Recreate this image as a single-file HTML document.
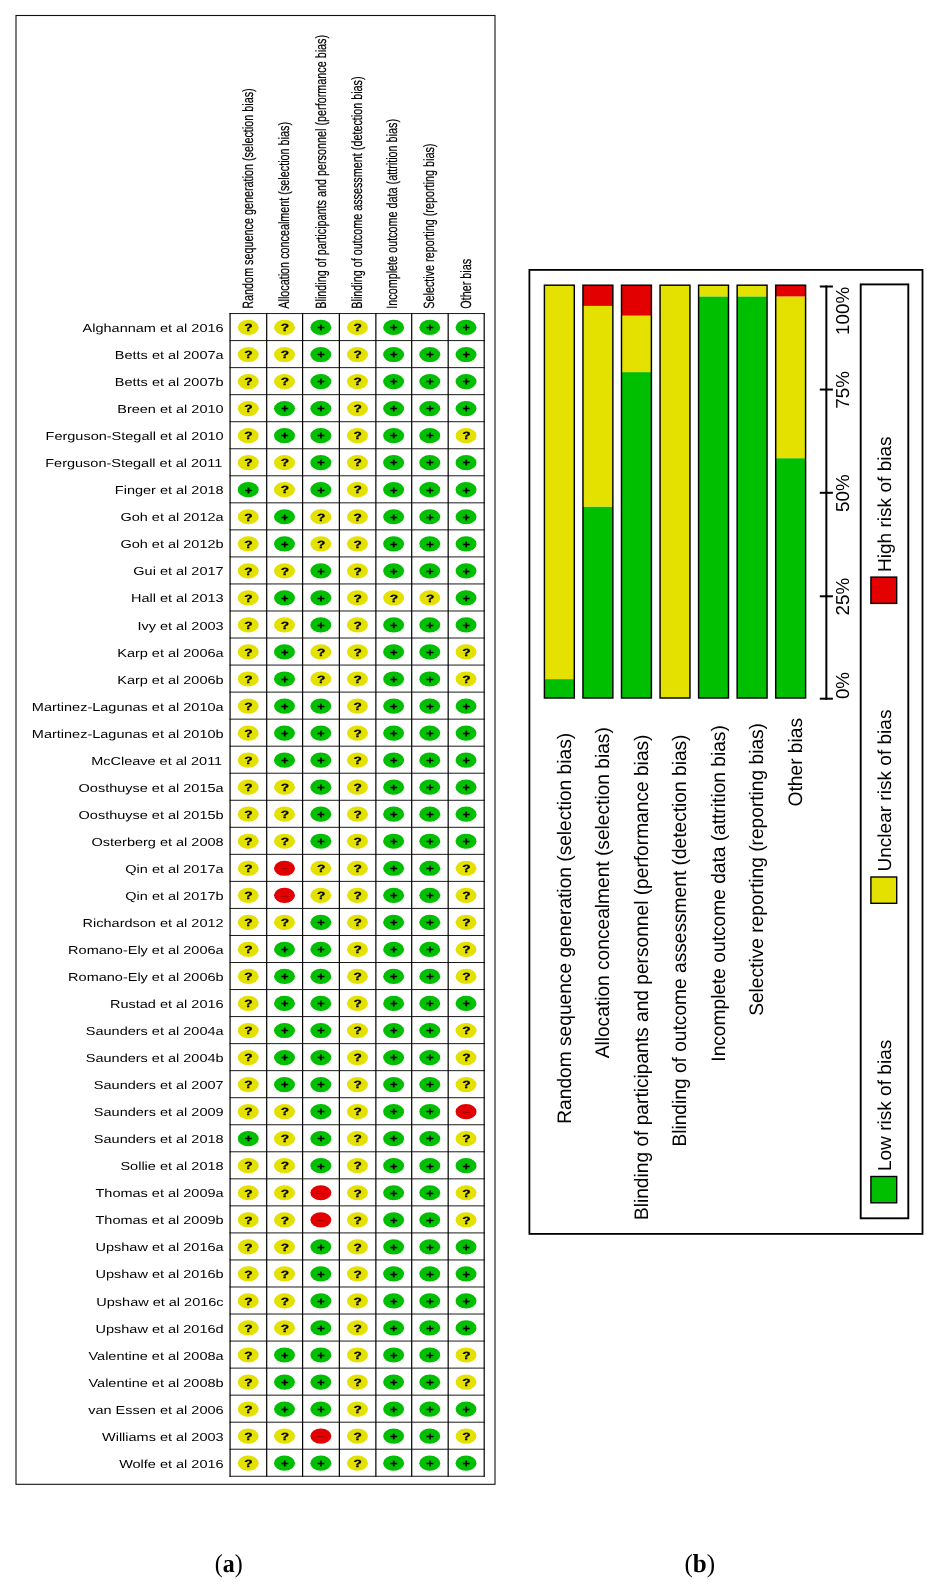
<!DOCTYPE html>
<html lang="en"><head><meta charset="utf-8"><title>Risk of bias summary and graph</title><style>
html,body{margin:0;padding:0;background:#fff}
svg{display:block;will-change:transform}
text{font-family:"Liberation Sans",sans-serif;fill:#000;text-rendering:geometricPrecision}
.st{font-size:11.6px}
.hd{font-size:12px;stroke:#000;stroke-width:0.15px}
.sy{font-size:10.5px;font-weight:bold;stroke:#000;stroke-width:0.3px}
.sm{font-size:10px;fill:#8a0000}
.bl{font-size:19.17px}
.ax{font-size:18.8px}
.cap{font-family:"Liberation Serif","DejaVu Serif",serif;font-size:25.8px}
</style></head><body>
<svg width="937" height="1589" viewBox="0 0 937 1589">
<rect x="0" y="0" width="937" height="1589" fill="#fff"/>
<rect x="16" y="15.5" width="479" height="1468.8" fill="none" stroke="#111" stroke-width="1.1"/>
<line x1="230.07" y1="313.05" x2="230.07" y2="1476.77" stroke="#000" stroke-width="1.2"/>
<line x1="266.70" y1="313.05" x2="266.70" y2="1476.77" stroke="#000" stroke-width="1.2"/>
<line x1="302.60" y1="313.05" x2="302.60" y2="1476.77" stroke="#000" stroke-width="1.2"/>
<line x1="339.35" y1="313.05" x2="339.35" y2="1476.77" stroke="#000" stroke-width="1.2"/>
<line x1="375.87" y1="313.05" x2="375.87" y2="1476.77" stroke="#000" stroke-width="1.2"/>
<line x1="411.70" y1="313.05" x2="411.70" y2="1476.77" stroke="#000" stroke-width="1.2"/>
<line x1="448.18" y1="313.05" x2="448.18" y2="1476.77" stroke="#000" stroke-width="1.2"/>
<line x1="484.20" y1="313.05" x2="484.20" y2="1476.77" stroke="#000" stroke-width="1.2"/>
<line x1="229.47" y1="313.55" x2="484.80" y2="313.55" stroke="#000" stroke-width="0.9"/>
<line x1="229.47" y1="340.59" x2="484.80" y2="340.59" stroke="#000" stroke-width="0.9"/>
<line x1="229.47" y1="367.63" x2="484.80" y2="367.63" stroke="#000" stroke-width="0.9"/>
<line x1="229.47" y1="394.67" x2="484.80" y2="394.67" stroke="#000" stroke-width="0.9"/>
<line x1="229.47" y1="421.71" x2="484.80" y2="421.71" stroke="#000" stroke-width="0.9"/>
<line x1="229.47" y1="448.75" x2="484.80" y2="448.75" stroke="#000" stroke-width="0.9"/>
<line x1="229.47" y1="475.79" x2="484.80" y2="475.79" stroke="#000" stroke-width="0.9"/>
<line x1="229.47" y1="502.83" x2="484.80" y2="502.83" stroke="#000" stroke-width="0.9"/>
<line x1="229.47" y1="529.87" x2="484.80" y2="529.87" stroke="#000" stroke-width="0.9"/>
<line x1="229.47" y1="556.91" x2="484.80" y2="556.91" stroke="#000" stroke-width="0.9"/>
<line x1="229.47" y1="583.95" x2="484.80" y2="583.95" stroke="#000" stroke-width="0.9"/>
<line x1="229.47" y1="610.99" x2="484.80" y2="610.99" stroke="#000" stroke-width="0.9"/>
<line x1="229.47" y1="638.03" x2="484.80" y2="638.03" stroke="#000" stroke-width="0.9"/>
<line x1="229.47" y1="665.07" x2="484.80" y2="665.07" stroke="#000" stroke-width="0.9"/>
<line x1="229.47" y1="692.11" x2="484.80" y2="692.11" stroke="#000" stroke-width="0.9"/>
<line x1="229.47" y1="719.15" x2="484.80" y2="719.15" stroke="#000" stroke-width="0.9"/>
<line x1="229.47" y1="746.19" x2="484.80" y2="746.19" stroke="#000" stroke-width="0.9"/>
<line x1="229.47" y1="773.23" x2="484.80" y2="773.23" stroke="#000" stroke-width="0.9"/>
<line x1="229.47" y1="800.27" x2="484.80" y2="800.27" stroke="#000" stroke-width="0.9"/>
<line x1="229.47" y1="827.31" x2="484.80" y2="827.31" stroke="#000" stroke-width="0.9"/>
<line x1="229.47" y1="854.35" x2="484.80" y2="854.35" stroke="#000" stroke-width="0.9"/>
<line x1="229.47" y1="881.39" x2="484.80" y2="881.39" stroke="#000" stroke-width="0.9"/>
<line x1="229.47" y1="908.43" x2="484.80" y2="908.43" stroke="#000" stroke-width="0.9"/>
<line x1="229.47" y1="935.47" x2="484.80" y2="935.47" stroke="#000" stroke-width="0.9"/>
<line x1="229.47" y1="962.51" x2="484.80" y2="962.51" stroke="#000" stroke-width="0.9"/>
<line x1="229.47" y1="989.55" x2="484.80" y2="989.55" stroke="#000" stroke-width="0.9"/>
<line x1="229.47" y1="1016.59" x2="484.80" y2="1016.59" stroke="#000" stroke-width="0.9"/>
<line x1="229.47" y1="1043.63" x2="484.80" y2="1043.63" stroke="#000" stroke-width="0.9"/>
<line x1="229.47" y1="1070.67" x2="484.80" y2="1070.67" stroke="#000" stroke-width="0.9"/>
<line x1="229.47" y1="1097.71" x2="484.80" y2="1097.71" stroke="#000" stroke-width="0.9"/>
<line x1="229.47" y1="1124.75" x2="484.80" y2="1124.75" stroke="#000" stroke-width="0.9"/>
<line x1="229.47" y1="1151.79" x2="484.80" y2="1151.79" stroke="#000" stroke-width="0.9"/>
<line x1="229.47" y1="1178.83" x2="484.80" y2="1178.83" stroke="#000" stroke-width="0.9"/>
<line x1="229.47" y1="1205.87" x2="484.80" y2="1205.87" stroke="#000" stroke-width="0.9"/>
<line x1="229.47" y1="1232.91" x2="484.80" y2="1232.91" stroke="#000" stroke-width="0.9"/>
<line x1="229.47" y1="1259.95" x2="484.80" y2="1259.95" stroke="#000" stroke-width="0.9"/>
<line x1="229.47" y1="1286.99" x2="484.80" y2="1286.99" stroke="#000" stroke-width="0.9"/>
<line x1="229.47" y1="1314.03" x2="484.80" y2="1314.03" stroke="#000" stroke-width="0.9"/>
<line x1="229.47" y1="1341.07" x2="484.80" y2="1341.07" stroke="#000" stroke-width="0.9"/>
<line x1="229.47" y1="1368.11" x2="484.80" y2="1368.11" stroke="#000" stroke-width="0.9"/>
<line x1="229.47" y1="1395.15" x2="484.80" y2="1395.15" stroke="#000" stroke-width="0.9"/>
<line x1="229.47" y1="1422.19" x2="484.80" y2="1422.19" stroke="#000" stroke-width="0.9"/>
<line x1="229.47" y1="1449.23" x2="484.80" y2="1449.23" stroke="#000" stroke-width="0.9"/>
<line x1="229.47" y1="1476.27" x2="484.80" y2="1476.27" stroke="#000" stroke-width="0.9"/>
<text class="hd" transform="translate(253.00,308.7) scale(1.24,0.9) rotate(-90)">Random sequence generation (selection bias)</text>
<text class="hd" transform="translate(289.33,308.7) scale(1.24,0.9) rotate(-90)">Allocation concealment (selection bias)</text>
<text class="hd" transform="translate(325.66,308.7) scale(1.24,0.9) rotate(-90)">Blinding of participants and personnel (performance bias)</text>
<text class="hd" transform="translate(361.69,308.7) scale(1.24,0.9) rotate(-90)">Blinding of outcome assessment (detection bias)</text>
<text class="hd" transform="translate(397.41,308.7) scale(1.24,0.9) rotate(-90)">Incomplete outcome data (attrition bias)</text>
<text class="hd" transform="translate(434.24,308.7) scale(1.24,0.9) rotate(-90)">Selective reporting (reporting bias)</text>
<text class="hd" transform="translate(470.77,308.7) scale(1.24,0.9) rotate(-90)">Other bias</text>
<text class="st" transform="translate(223.6,332.07) scale(1.25,1)" text-anchor="end">Alghannam et al 2016</text>
<ellipse cx="248.23" cy="327.47" rx="10.5" ry="7.6" fill="#e4e000"/>
<text class="sy" transform="translate(248.53,331.22) scale(1.3,1)" text-anchor="middle">?</text>
<ellipse cx="284.50" cy="327.47" rx="10.5" ry="7.6" fill="#e4e000"/>
<text class="sy" transform="translate(284.80,331.22) scale(1.3,1)" text-anchor="middle">?</text>
<ellipse cx="320.83" cy="327.47" rx="10.5" ry="7.6" fill="#00be00"/>
<text class="sy" transform="translate(321.03,331.27) scale(1.22,1.0)" text-anchor="middle">+</text>
<ellipse cx="357.46" cy="327.47" rx="10.5" ry="7.6" fill="#e4e000"/>
<text class="sy" transform="translate(357.76,331.22) scale(1.3,1)" text-anchor="middle">?</text>
<ellipse cx="393.63" cy="327.47" rx="10.5" ry="7.6" fill="#00be00"/>
<text class="sy" transform="translate(393.83,331.27) scale(1.22,1.0)" text-anchor="middle">+</text>
<ellipse cx="429.79" cy="327.47" rx="10.5" ry="7.6" fill="#00be00"/>
<text class="sy" transform="translate(429.99,331.27) scale(1.22,1.0)" text-anchor="middle">+</text>
<ellipse cx="466.04" cy="327.47" rx="10.5" ry="7.6" fill="#00be00"/>
<text class="sy" transform="translate(466.24,331.27) scale(1.22,1.0)" text-anchor="middle">+</text>
<text class="st" transform="translate(223.6,359.11) scale(1.25,1)" text-anchor="end">Betts et al 2007a</text>
<ellipse cx="248.23" cy="354.51" rx="10.5" ry="7.6" fill="#e4e000"/>
<text class="sy" transform="translate(248.53,358.26) scale(1.3,1)" text-anchor="middle">?</text>
<ellipse cx="284.50" cy="354.51" rx="10.5" ry="7.6" fill="#e4e000"/>
<text class="sy" transform="translate(284.80,358.26) scale(1.3,1)" text-anchor="middle">?</text>
<ellipse cx="320.83" cy="354.51" rx="10.5" ry="7.6" fill="#00be00"/>
<text class="sy" transform="translate(321.03,358.31) scale(1.22,1.0)" text-anchor="middle">+</text>
<ellipse cx="357.46" cy="354.51" rx="10.5" ry="7.6" fill="#e4e000"/>
<text class="sy" transform="translate(357.76,358.26) scale(1.3,1)" text-anchor="middle">?</text>
<ellipse cx="393.63" cy="354.51" rx="10.5" ry="7.6" fill="#00be00"/>
<text class="sy" transform="translate(393.83,358.31) scale(1.22,1.0)" text-anchor="middle">+</text>
<ellipse cx="429.79" cy="354.51" rx="10.5" ry="7.6" fill="#00be00"/>
<text class="sy" transform="translate(429.99,358.31) scale(1.22,1.0)" text-anchor="middle">+</text>
<ellipse cx="466.04" cy="354.51" rx="10.5" ry="7.6" fill="#00be00"/>
<text class="sy" transform="translate(466.24,358.31) scale(1.22,1.0)" text-anchor="middle">+</text>
<text class="st" transform="translate(223.6,386.15) scale(1.25,1)" text-anchor="end">Betts et al 2007b</text>
<ellipse cx="248.23" cy="381.55" rx="10.5" ry="7.6" fill="#e4e000"/>
<text class="sy" transform="translate(248.53,385.30) scale(1.3,1)" text-anchor="middle">?</text>
<ellipse cx="284.50" cy="381.55" rx="10.5" ry="7.6" fill="#e4e000"/>
<text class="sy" transform="translate(284.80,385.30) scale(1.3,1)" text-anchor="middle">?</text>
<ellipse cx="320.83" cy="381.55" rx="10.5" ry="7.6" fill="#00be00"/>
<text class="sy" transform="translate(321.03,385.35) scale(1.22,1.0)" text-anchor="middle">+</text>
<ellipse cx="357.46" cy="381.55" rx="10.5" ry="7.6" fill="#e4e000"/>
<text class="sy" transform="translate(357.76,385.30) scale(1.3,1)" text-anchor="middle">?</text>
<ellipse cx="393.63" cy="381.55" rx="10.5" ry="7.6" fill="#00be00"/>
<text class="sy" transform="translate(393.83,385.35) scale(1.22,1.0)" text-anchor="middle">+</text>
<ellipse cx="429.79" cy="381.55" rx="10.5" ry="7.6" fill="#00be00"/>
<text class="sy" transform="translate(429.99,385.35) scale(1.22,1.0)" text-anchor="middle">+</text>
<ellipse cx="466.04" cy="381.55" rx="10.5" ry="7.6" fill="#00be00"/>
<text class="sy" transform="translate(466.24,385.35) scale(1.22,1.0)" text-anchor="middle">+</text>
<text class="st" transform="translate(223.6,413.19) scale(1.25,1)" text-anchor="end">Breen et al 2010</text>
<ellipse cx="248.23" cy="408.59" rx="10.5" ry="7.6" fill="#e4e000"/>
<text class="sy" transform="translate(248.53,412.34) scale(1.3,1)" text-anchor="middle">?</text>
<ellipse cx="284.50" cy="408.59" rx="10.5" ry="7.6" fill="#00be00"/>
<text class="sy" transform="translate(284.70,412.39) scale(1.22,1.0)" text-anchor="middle">+</text>
<ellipse cx="320.83" cy="408.59" rx="10.5" ry="7.6" fill="#00be00"/>
<text class="sy" transform="translate(321.03,412.39) scale(1.22,1.0)" text-anchor="middle">+</text>
<ellipse cx="357.46" cy="408.59" rx="10.5" ry="7.6" fill="#e4e000"/>
<text class="sy" transform="translate(357.76,412.34) scale(1.3,1)" text-anchor="middle">?</text>
<ellipse cx="393.63" cy="408.59" rx="10.5" ry="7.6" fill="#00be00"/>
<text class="sy" transform="translate(393.83,412.39) scale(1.22,1.0)" text-anchor="middle">+</text>
<ellipse cx="429.79" cy="408.59" rx="10.5" ry="7.6" fill="#00be00"/>
<text class="sy" transform="translate(429.99,412.39) scale(1.22,1.0)" text-anchor="middle">+</text>
<ellipse cx="466.04" cy="408.59" rx="10.5" ry="7.6" fill="#00be00"/>
<text class="sy" transform="translate(466.24,412.39) scale(1.22,1.0)" text-anchor="middle">+</text>
<text class="st" transform="translate(223.6,440.23) scale(1.25,1)" text-anchor="end">Ferguson-Stegall et al 2010</text>
<ellipse cx="248.23" cy="435.63" rx="10.5" ry="7.6" fill="#e4e000"/>
<text class="sy" transform="translate(248.53,439.38) scale(1.3,1)" text-anchor="middle">?</text>
<ellipse cx="284.50" cy="435.63" rx="10.5" ry="7.6" fill="#00be00"/>
<text class="sy" transform="translate(284.70,439.43) scale(1.22,1.0)" text-anchor="middle">+</text>
<ellipse cx="320.83" cy="435.63" rx="10.5" ry="7.6" fill="#00be00"/>
<text class="sy" transform="translate(321.03,439.43) scale(1.22,1.0)" text-anchor="middle">+</text>
<ellipse cx="357.46" cy="435.63" rx="10.5" ry="7.6" fill="#e4e000"/>
<text class="sy" transform="translate(357.76,439.38) scale(1.3,1)" text-anchor="middle">?</text>
<ellipse cx="393.63" cy="435.63" rx="10.5" ry="7.6" fill="#00be00"/>
<text class="sy" transform="translate(393.83,439.43) scale(1.22,1.0)" text-anchor="middle">+</text>
<ellipse cx="429.79" cy="435.63" rx="10.5" ry="7.6" fill="#00be00"/>
<text class="sy" transform="translate(429.99,439.43) scale(1.22,1.0)" text-anchor="middle">+</text>
<ellipse cx="466.04" cy="435.63" rx="10.5" ry="7.6" fill="#e4e000"/>
<text class="sy" transform="translate(466.34,439.38) scale(1.3,1)" text-anchor="middle">?</text>
<text class="st" transform="translate(222.2,467.27) scale(1.25,1)" text-anchor="end">Ferguson-Stegall et al 2011</text>
<ellipse cx="248.23" cy="462.67" rx="10.5" ry="7.6" fill="#e4e000"/>
<text class="sy" transform="translate(248.53,466.42) scale(1.3,1)" text-anchor="middle">?</text>
<ellipse cx="284.50" cy="462.67" rx="10.5" ry="7.6" fill="#e4e000"/>
<text class="sy" transform="translate(284.80,466.42) scale(1.3,1)" text-anchor="middle">?</text>
<ellipse cx="320.83" cy="462.67" rx="10.5" ry="7.6" fill="#00be00"/>
<text class="sy" transform="translate(321.03,466.47) scale(1.22,1.0)" text-anchor="middle">+</text>
<ellipse cx="357.46" cy="462.67" rx="10.5" ry="7.6" fill="#e4e000"/>
<text class="sy" transform="translate(357.76,466.42) scale(1.3,1)" text-anchor="middle">?</text>
<ellipse cx="393.63" cy="462.67" rx="10.5" ry="7.6" fill="#00be00"/>
<text class="sy" transform="translate(393.83,466.47) scale(1.22,1.0)" text-anchor="middle">+</text>
<ellipse cx="429.79" cy="462.67" rx="10.5" ry="7.6" fill="#00be00"/>
<text class="sy" transform="translate(429.99,466.47) scale(1.22,1.0)" text-anchor="middle">+</text>
<ellipse cx="466.04" cy="462.67" rx="10.5" ry="7.6" fill="#00be00"/>
<text class="sy" transform="translate(466.24,466.47) scale(1.22,1.0)" text-anchor="middle">+</text>
<text class="st" transform="translate(223.6,494.31) scale(1.25,1)" text-anchor="end">Finger et al 2018</text>
<ellipse cx="248.23" cy="489.71" rx="10.5" ry="7.6" fill="#00be00"/>
<text class="sy" transform="translate(248.43,493.51) scale(1.22,1.0)" text-anchor="middle">+</text>
<ellipse cx="284.50" cy="489.71" rx="10.5" ry="7.6" fill="#e4e000"/>
<text class="sy" transform="translate(284.80,493.46) scale(1.3,1)" text-anchor="middle">?</text>
<ellipse cx="320.83" cy="489.71" rx="10.5" ry="7.6" fill="#00be00"/>
<text class="sy" transform="translate(321.03,493.51) scale(1.22,1.0)" text-anchor="middle">+</text>
<ellipse cx="357.46" cy="489.71" rx="10.5" ry="7.6" fill="#e4e000"/>
<text class="sy" transform="translate(357.76,493.46) scale(1.3,1)" text-anchor="middle">?</text>
<ellipse cx="393.63" cy="489.71" rx="10.5" ry="7.6" fill="#00be00"/>
<text class="sy" transform="translate(393.83,493.51) scale(1.22,1.0)" text-anchor="middle">+</text>
<ellipse cx="429.79" cy="489.71" rx="10.5" ry="7.6" fill="#00be00"/>
<text class="sy" transform="translate(429.99,493.51) scale(1.22,1.0)" text-anchor="middle">+</text>
<ellipse cx="466.04" cy="489.71" rx="10.5" ry="7.6" fill="#00be00"/>
<text class="sy" transform="translate(466.24,493.51) scale(1.22,1.0)" text-anchor="middle">+</text>
<text class="st" transform="translate(223.6,521.35) scale(1.25,1)" text-anchor="end">Goh et al 2012a</text>
<ellipse cx="248.23" cy="516.75" rx="10.5" ry="7.6" fill="#e4e000"/>
<text class="sy" transform="translate(248.53,520.50) scale(1.3,1)" text-anchor="middle">?</text>
<ellipse cx="284.50" cy="516.75" rx="10.5" ry="7.6" fill="#00be00"/>
<text class="sy" transform="translate(284.70,520.55) scale(1.22,1.0)" text-anchor="middle">+</text>
<ellipse cx="320.83" cy="516.75" rx="10.5" ry="7.6" fill="#e4e000"/>
<text class="sy" transform="translate(321.13,520.50) scale(1.3,1)" text-anchor="middle">?</text>
<ellipse cx="357.46" cy="516.75" rx="10.5" ry="7.6" fill="#e4e000"/>
<text class="sy" transform="translate(357.76,520.50) scale(1.3,1)" text-anchor="middle">?</text>
<ellipse cx="393.63" cy="516.75" rx="10.5" ry="7.6" fill="#00be00"/>
<text class="sy" transform="translate(393.83,520.55) scale(1.22,1.0)" text-anchor="middle">+</text>
<ellipse cx="429.79" cy="516.75" rx="10.5" ry="7.6" fill="#00be00"/>
<text class="sy" transform="translate(429.99,520.55) scale(1.22,1.0)" text-anchor="middle">+</text>
<ellipse cx="466.04" cy="516.75" rx="10.5" ry="7.6" fill="#00be00"/>
<text class="sy" transform="translate(466.24,520.55) scale(1.22,1.0)" text-anchor="middle">+</text>
<text class="st" transform="translate(223.6,548.39) scale(1.25,1)" text-anchor="end">Goh et al 2012b</text>
<ellipse cx="248.23" cy="543.79" rx="10.5" ry="7.6" fill="#e4e000"/>
<text class="sy" transform="translate(248.53,547.54) scale(1.3,1)" text-anchor="middle">?</text>
<ellipse cx="284.50" cy="543.79" rx="10.5" ry="7.6" fill="#00be00"/>
<text class="sy" transform="translate(284.70,547.59) scale(1.22,1.0)" text-anchor="middle">+</text>
<ellipse cx="320.83" cy="543.79" rx="10.5" ry="7.6" fill="#e4e000"/>
<text class="sy" transform="translate(321.13,547.54) scale(1.3,1)" text-anchor="middle">?</text>
<ellipse cx="357.46" cy="543.79" rx="10.5" ry="7.6" fill="#e4e000"/>
<text class="sy" transform="translate(357.76,547.54) scale(1.3,1)" text-anchor="middle">?</text>
<ellipse cx="393.63" cy="543.79" rx="10.5" ry="7.6" fill="#00be00"/>
<text class="sy" transform="translate(393.83,547.59) scale(1.22,1.0)" text-anchor="middle">+</text>
<ellipse cx="429.79" cy="543.79" rx="10.5" ry="7.6" fill="#00be00"/>
<text class="sy" transform="translate(429.99,547.59) scale(1.22,1.0)" text-anchor="middle">+</text>
<ellipse cx="466.04" cy="543.79" rx="10.5" ry="7.6" fill="#00be00"/>
<text class="sy" transform="translate(466.24,547.59) scale(1.22,1.0)" text-anchor="middle">+</text>
<text class="st" transform="translate(223.6,575.43) scale(1.25,1)" text-anchor="end">Gui et al 2017</text>
<ellipse cx="248.23" cy="570.83" rx="10.5" ry="7.6" fill="#e4e000"/>
<text class="sy" transform="translate(248.53,574.58) scale(1.3,1)" text-anchor="middle">?</text>
<ellipse cx="284.50" cy="570.83" rx="10.5" ry="7.6" fill="#e4e000"/>
<text class="sy" transform="translate(284.80,574.58) scale(1.3,1)" text-anchor="middle">?</text>
<ellipse cx="320.83" cy="570.83" rx="10.5" ry="7.6" fill="#00be00"/>
<text class="sy" transform="translate(321.03,574.63) scale(1.22,1.0)" text-anchor="middle">+</text>
<ellipse cx="357.46" cy="570.83" rx="10.5" ry="7.6" fill="#e4e000"/>
<text class="sy" transform="translate(357.76,574.58) scale(1.3,1)" text-anchor="middle">?</text>
<ellipse cx="393.63" cy="570.83" rx="10.5" ry="7.6" fill="#00be00"/>
<text class="sy" transform="translate(393.83,574.63) scale(1.22,1.0)" text-anchor="middle">+</text>
<ellipse cx="429.79" cy="570.83" rx="10.5" ry="7.6" fill="#00be00"/>
<text class="sy" transform="translate(429.99,574.63) scale(1.22,1.0)" text-anchor="middle">+</text>
<ellipse cx="466.04" cy="570.83" rx="10.5" ry="7.6" fill="#00be00"/>
<text class="sy" transform="translate(466.24,574.63) scale(1.22,1.0)" text-anchor="middle">+</text>
<text class="st" transform="translate(223.6,602.47) scale(1.25,1)" text-anchor="end">Hall et al 2013</text>
<ellipse cx="248.23" cy="597.87" rx="10.5" ry="7.6" fill="#e4e000"/>
<text class="sy" transform="translate(248.53,601.62) scale(1.3,1)" text-anchor="middle">?</text>
<ellipse cx="284.50" cy="597.87" rx="10.5" ry="7.6" fill="#00be00"/>
<text class="sy" transform="translate(284.70,601.67) scale(1.22,1.0)" text-anchor="middle">+</text>
<ellipse cx="320.83" cy="597.87" rx="10.5" ry="7.6" fill="#00be00"/>
<text class="sy" transform="translate(321.03,601.67) scale(1.22,1.0)" text-anchor="middle">+</text>
<ellipse cx="357.46" cy="597.87" rx="10.5" ry="7.6" fill="#e4e000"/>
<text class="sy" transform="translate(357.76,601.62) scale(1.3,1)" text-anchor="middle">?</text>
<ellipse cx="393.63" cy="597.87" rx="10.5" ry="7.6" fill="#e4e000"/>
<text class="sy" transform="translate(393.94,601.62) scale(1.3,1)" text-anchor="middle">?</text>
<ellipse cx="429.79" cy="597.87" rx="10.5" ry="7.6" fill="#e4e000"/>
<text class="sy" transform="translate(430.09,601.62) scale(1.3,1)" text-anchor="middle">?</text>
<ellipse cx="466.04" cy="597.87" rx="10.5" ry="7.6" fill="#00be00"/>
<text class="sy" transform="translate(466.24,601.67) scale(1.22,1.0)" text-anchor="middle">+</text>
<text class="st" transform="translate(223.6,629.51) scale(1.25,1)" text-anchor="end">Ivy et al 2003</text>
<ellipse cx="248.23" cy="624.91" rx="10.5" ry="7.6" fill="#e4e000"/>
<text class="sy" transform="translate(248.53,628.66) scale(1.3,1)" text-anchor="middle">?</text>
<ellipse cx="284.50" cy="624.91" rx="10.5" ry="7.6" fill="#e4e000"/>
<text class="sy" transform="translate(284.80,628.66) scale(1.3,1)" text-anchor="middle">?</text>
<ellipse cx="320.83" cy="624.91" rx="10.5" ry="7.6" fill="#00be00"/>
<text class="sy" transform="translate(321.03,628.71) scale(1.22,1.0)" text-anchor="middle">+</text>
<ellipse cx="357.46" cy="624.91" rx="10.5" ry="7.6" fill="#e4e000"/>
<text class="sy" transform="translate(357.76,628.66) scale(1.3,1)" text-anchor="middle">?</text>
<ellipse cx="393.63" cy="624.91" rx="10.5" ry="7.6" fill="#00be00"/>
<text class="sy" transform="translate(393.83,628.71) scale(1.22,1.0)" text-anchor="middle">+</text>
<ellipse cx="429.79" cy="624.91" rx="10.5" ry="7.6" fill="#00be00"/>
<text class="sy" transform="translate(429.99,628.71) scale(1.22,1.0)" text-anchor="middle">+</text>
<ellipse cx="466.04" cy="624.91" rx="10.5" ry="7.6" fill="#00be00"/>
<text class="sy" transform="translate(466.24,628.71) scale(1.22,1.0)" text-anchor="middle">+</text>
<text class="st" transform="translate(223.6,656.55) scale(1.25,1)" text-anchor="end">Karp et al 2006a</text>
<ellipse cx="248.23" cy="651.95" rx="10.5" ry="7.6" fill="#e4e000"/>
<text class="sy" transform="translate(248.53,655.70) scale(1.3,1)" text-anchor="middle">?</text>
<ellipse cx="284.50" cy="651.95" rx="10.5" ry="7.6" fill="#00be00"/>
<text class="sy" transform="translate(284.70,655.75) scale(1.22,1.0)" text-anchor="middle">+</text>
<ellipse cx="320.83" cy="651.95" rx="10.5" ry="7.6" fill="#e4e000"/>
<text class="sy" transform="translate(321.13,655.70) scale(1.3,1)" text-anchor="middle">?</text>
<ellipse cx="357.46" cy="651.95" rx="10.5" ry="7.6" fill="#e4e000"/>
<text class="sy" transform="translate(357.76,655.70) scale(1.3,1)" text-anchor="middle">?</text>
<ellipse cx="393.63" cy="651.95" rx="10.5" ry="7.6" fill="#00be00"/>
<text class="sy" transform="translate(393.83,655.75) scale(1.22,1.0)" text-anchor="middle">+</text>
<ellipse cx="429.79" cy="651.95" rx="10.5" ry="7.6" fill="#00be00"/>
<text class="sy" transform="translate(429.99,655.75) scale(1.22,1.0)" text-anchor="middle">+</text>
<ellipse cx="466.04" cy="651.95" rx="10.5" ry="7.6" fill="#e4e000"/>
<text class="sy" transform="translate(466.34,655.70) scale(1.3,1)" text-anchor="middle">?</text>
<text class="st" transform="translate(223.6,683.59) scale(1.25,1)" text-anchor="end">Karp et al 2006b</text>
<ellipse cx="248.23" cy="678.99" rx="10.5" ry="7.6" fill="#e4e000"/>
<text class="sy" transform="translate(248.53,682.74) scale(1.3,1)" text-anchor="middle">?</text>
<ellipse cx="284.50" cy="678.99" rx="10.5" ry="7.6" fill="#00be00"/>
<text class="sy" transform="translate(284.70,682.79) scale(1.22,1.0)" text-anchor="middle">+</text>
<ellipse cx="320.83" cy="678.99" rx="10.5" ry="7.6" fill="#e4e000"/>
<text class="sy" transform="translate(321.13,682.74) scale(1.3,1)" text-anchor="middle">?</text>
<ellipse cx="357.46" cy="678.99" rx="10.5" ry="7.6" fill="#e4e000"/>
<text class="sy" transform="translate(357.76,682.74) scale(1.3,1)" text-anchor="middle">?</text>
<ellipse cx="393.63" cy="678.99" rx="10.5" ry="7.6" fill="#00be00"/>
<text class="sy" transform="translate(393.83,682.79) scale(1.22,1.0)" text-anchor="middle">+</text>
<ellipse cx="429.79" cy="678.99" rx="10.5" ry="7.6" fill="#00be00"/>
<text class="sy" transform="translate(429.99,682.79) scale(1.22,1.0)" text-anchor="middle">+</text>
<ellipse cx="466.04" cy="678.99" rx="10.5" ry="7.6" fill="#e4e000"/>
<text class="sy" transform="translate(466.34,682.74) scale(1.3,1)" text-anchor="middle">?</text>
<text class="st" transform="translate(223.6,710.63) scale(1.25,1)" text-anchor="end">Martinez-Lagunas et al 2010a</text>
<ellipse cx="248.23" cy="706.03" rx="10.5" ry="7.6" fill="#e4e000"/>
<text class="sy" transform="translate(248.53,709.78) scale(1.3,1)" text-anchor="middle">?</text>
<ellipse cx="284.50" cy="706.03" rx="10.5" ry="7.6" fill="#00be00"/>
<text class="sy" transform="translate(284.70,709.83) scale(1.22,1.0)" text-anchor="middle">+</text>
<ellipse cx="320.83" cy="706.03" rx="10.5" ry="7.6" fill="#00be00"/>
<text class="sy" transform="translate(321.03,709.83) scale(1.22,1.0)" text-anchor="middle">+</text>
<ellipse cx="357.46" cy="706.03" rx="10.5" ry="7.6" fill="#e4e000"/>
<text class="sy" transform="translate(357.76,709.78) scale(1.3,1)" text-anchor="middle">?</text>
<ellipse cx="393.63" cy="706.03" rx="10.5" ry="7.6" fill="#00be00"/>
<text class="sy" transform="translate(393.83,709.83) scale(1.22,1.0)" text-anchor="middle">+</text>
<ellipse cx="429.79" cy="706.03" rx="10.5" ry="7.6" fill="#00be00"/>
<text class="sy" transform="translate(429.99,709.83) scale(1.22,1.0)" text-anchor="middle">+</text>
<ellipse cx="466.04" cy="706.03" rx="10.5" ry="7.6" fill="#00be00"/>
<text class="sy" transform="translate(466.24,709.83) scale(1.22,1.0)" text-anchor="middle">+</text>
<text class="st" transform="translate(223.6,737.67) scale(1.25,1)" text-anchor="end">Martinez-Lagunas et al 2010b</text>
<ellipse cx="248.23" cy="733.07" rx="10.5" ry="7.6" fill="#e4e000"/>
<text class="sy" transform="translate(248.53,736.82) scale(1.3,1)" text-anchor="middle">?</text>
<ellipse cx="284.50" cy="733.07" rx="10.5" ry="7.6" fill="#00be00"/>
<text class="sy" transform="translate(284.70,736.87) scale(1.22,1.0)" text-anchor="middle">+</text>
<ellipse cx="320.83" cy="733.07" rx="10.5" ry="7.6" fill="#00be00"/>
<text class="sy" transform="translate(321.03,736.87) scale(1.22,1.0)" text-anchor="middle">+</text>
<ellipse cx="357.46" cy="733.07" rx="10.5" ry="7.6" fill="#e4e000"/>
<text class="sy" transform="translate(357.76,736.82) scale(1.3,1)" text-anchor="middle">?</text>
<ellipse cx="393.63" cy="733.07" rx="10.5" ry="7.6" fill="#00be00"/>
<text class="sy" transform="translate(393.83,736.87) scale(1.22,1.0)" text-anchor="middle">+</text>
<ellipse cx="429.79" cy="733.07" rx="10.5" ry="7.6" fill="#00be00"/>
<text class="sy" transform="translate(429.99,736.87) scale(1.22,1.0)" text-anchor="middle">+</text>
<ellipse cx="466.04" cy="733.07" rx="10.5" ry="7.6" fill="#00be00"/>
<text class="sy" transform="translate(466.24,736.87) scale(1.22,1.0)" text-anchor="middle">+</text>
<text class="st" transform="translate(222.2,764.71) scale(1.25,1)" text-anchor="end">McCleave et al 2011</text>
<ellipse cx="248.23" cy="760.11" rx="10.5" ry="7.6" fill="#e4e000"/>
<text class="sy" transform="translate(248.53,763.86) scale(1.3,1)" text-anchor="middle">?</text>
<ellipse cx="284.50" cy="760.11" rx="10.5" ry="7.6" fill="#00be00"/>
<text class="sy" transform="translate(284.70,763.91) scale(1.22,1.0)" text-anchor="middle">+</text>
<ellipse cx="320.83" cy="760.11" rx="10.5" ry="7.6" fill="#00be00"/>
<text class="sy" transform="translate(321.03,763.91) scale(1.22,1.0)" text-anchor="middle">+</text>
<ellipse cx="357.46" cy="760.11" rx="10.5" ry="7.6" fill="#e4e000"/>
<text class="sy" transform="translate(357.76,763.86) scale(1.3,1)" text-anchor="middle">?</text>
<ellipse cx="393.63" cy="760.11" rx="10.5" ry="7.6" fill="#00be00"/>
<text class="sy" transform="translate(393.83,763.91) scale(1.22,1.0)" text-anchor="middle">+</text>
<ellipse cx="429.79" cy="760.11" rx="10.5" ry="7.6" fill="#00be00"/>
<text class="sy" transform="translate(429.99,763.91) scale(1.22,1.0)" text-anchor="middle">+</text>
<ellipse cx="466.04" cy="760.11" rx="10.5" ry="7.6" fill="#00be00"/>
<text class="sy" transform="translate(466.24,763.91) scale(1.22,1.0)" text-anchor="middle">+</text>
<text class="st" transform="translate(223.6,791.75) scale(1.25,1)" text-anchor="end">Oosthuyse et al 2015a</text>
<ellipse cx="248.23" cy="787.15" rx="10.5" ry="7.6" fill="#e4e000"/>
<text class="sy" transform="translate(248.53,790.90) scale(1.3,1)" text-anchor="middle">?</text>
<ellipse cx="284.50" cy="787.15" rx="10.5" ry="7.6" fill="#e4e000"/>
<text class="sy" transform="translate(284.80,790.90) scale(1.3,1)" text-anchor="middle">?</text>
<ellipse cx="320.83" cy="787.15" rx="10.5" ry="7.6" fill="#00be00"/>
<text class="sy" transform="translate(321.03,790.95) scale(1.22,1.0)" text-anchor="middle">+</text>
<ellipse cx="357.46" cy="787.15" rx="10.5" ry="7.6" fill="#e4e000"/>
<text class="sy" transform="translate(357.76,790.90) scale(1.3,1)" text-anchor="middle">?</text>
<ellipse cx="393.63" cy="787.15" rx="10.5" ry="7.6" fill="#00be00"/>
<text class="sy" transform="translate(393.83,790.95) scale(1.22,1.0)" text-anchor="middle">+</text>
<ellipse cx="429.79" cy="787.15" rx="10.5" ry="7.6" fill="#00be00"/>
<text class="sy" transform="translate(429.99,790.95) scale(1.22,1.0)" text-anchor="middle">+</text>
<ellipse cx="466.04" cy="787.15" rx="10.5" ry="7.6" fill="#00be00"/>
<text class="sy" transform="translate(466.24,790.95) scale(1.22,1.0)" text-anchor="middle">+</text>
<text class="st" transform="translate(223.6,818.79) scale(1.25,1)" text-anchor="end">Oosthuyse et al 2015b</text>
<ellipse cx="248.23" cy="814.19" rx="10.5" ry="7.6" fill="#e4e000"/>
<text class="sy" transform="translate(248.53,817.94) scale(1.3,1)" text-anchor="middle">?</text>
<ellipse cx="284.50" cy="814.19" rx="10.5" ry="7.6" fill="#e4e000"/>
<text class="sy" transform="translate(284.80,817.94) scale(1.3,1)" text-anchor="middle">?</text>
<ellipse cx="320.83" cy="814.19" rx="10.5" ry="7.6" fill="#00be00"/>
<text class="sy" transform="translate(321.03,817.99) scale(1.22,1.0)" text-anchor="middle">+</text>
<ellipse cx="357.46" cy="814.19" rx="10.5" ry="7.6" fill="#e4e000"/>
<text class="sy" transform="translate(357.76,817.94) scale(1.3,1)" text-anchor="middle">?</text>
<ellipse cx="393.63" cy="814.19" rx="10.5" ry="7.6" fill="#00be00"/>
<text class="sy" transform="translate(393.83,817.99) scale(1.22,1.0)" text-anchor="middle">+</text>
<ellipse cx="429.79" cy="814.19" rx="10.5" ry="7.6" fill="#00be00"/>
<text class="sy" transform="translate(429.99,817.99) scale(1.22,1.0)" text-anchor="middle">+</text>
<ellipse cx="466.04" cy="814.19" rx="10.5" ry="7.6" fill="#00be00"/>
<text class="sy" transform="translate(466.24,817.99) scale(1.22,1.0)" text-anchor="middle">+</text>
<text class="st" transform="translate(223.6,845.83) scale(1.25,1)" text-anchor="end">Osterberg et al 2008</text>
<ellipse cx="248.23" cy="841.23" rx="10.5" ry="7.6" fill="#e4e000"/>
<text class="sy" transform="translate(248.53,844.98) scale(1.3,1)" text-anchor="middle">?</text>
<ellipse cx="284.50" cy="841.23" rx="10.5" ry="7.6" fill="#e4e000"/>
<text class="sy" transform="translate(284.80,844.98) scale(1.3,1)" text-anchor="middle">?</text>
<ellipse cx="320.83" cy="841.23" rx="10.5" ry="7.6" fill="#00be00"/>
<text class="sy" transform="translate(321.03,845.03) scale(1.22,1.0)" text-anchor="middle">+</text>
<ellipse cx="357.46" cy="841.23" rx="10.5" ry="7.6" fill="#e4e000"/>
<text class="sy" transform="translate(357.76,844.98) scale(1.3,1)" text-anchor="middle">?</text>
<ellipse cx="393.63" cy="841.23" rx="10.5" ry="7.6" fill="#00be00"/>
<text class="sy" transform="translate(393.83,845.03) scale(1.22,1.0)" text-anchor="middle">+</text>
<ellipse cx="429.79" cy="841.23" rx="10.5" ry="7.6" fill="#00be00"/>
<text class="sy" transform="translate(429.99,845.03) scale(1.22,1.0)" text-anchor="middle">+</text>
<ellipse cx="466.04" cy="841.23" rx="10.5" ry="7.6" fill="#00be00"/>
<text class="sy" transform="translate(466.24,845.03) scale(1.22,1.0)" text-anchor="middle">+</text>
<text class="st" transform="translate(223.6,872.87) scale(1.25,1)" text-anchor="end">Qin et al 2017a</text>
<ellipse cx="248.23" cy="868.27" rx="10.5" ry="7.6" fill="#e4e000"/>
<text class="sy" transform="translate(248.53,872.02) scale(1.3,1)" text-anchor="middle">?</text>
<ellipse cx="284.50" cy="868.27" rx="10.5" ry="7.6" fill="#e20000"/>
<text class="sm" transform="translate(284.50,871.47) scale(1.3,1)" text-anchor="middle">–</text>
<ellipse cx="320.83" cy="868.27" rx="10.5" ry="7.6" fill="#e4e000"/>
<text class="sy" transform="translate(321.13,872.02) scale(1.3,1)" text-anchor="middle">?</text>
<ellipse cx="357.46" cy="868.27" rx="10.5" ry="7.6" fill="#e4e000"/>
<text class="sy" transform="translate(357.76,872.02) scale(1.3,1)" text-anchor="middle">?</text>
<ellipse cx="393.63" cy="868.27" rx="10.5" ry="7.6" fill="#00be00"/>
<text class="sy" transform="translate(393.83,872.07) scale(1.22,1.0)" text-anchor="middle">+</text>
<ellipse cx="429.79" cy="868.27" rx="10.5" ry="7.6" fill="#00be00"/>
<text class="sy" transform="translate(429.99,872.07) scale(1.22,1.0)" text-anchor="middle">+</text>
<ellipse cx="466.04" cy="868.27" rx="10.5" ry="7.6" fill="#e4e000"/>
<text class="sy" transform="translate(466.34,872.02) scale(1.3,1)" text-anchor="middle">?</text>
<text class="st" transform="translate(223.6,899.91) scale(1.25,1)" text-anchor="end">Qin et al 2017b</text>
<ellipse cx="248.23" cy="895.31" rx="10.5" ry="7.6" fill="#e4e000"/>
<text class="sy" transform="translate(248.53,899.06) scale(1.3,1)" text-anchor="middle">?</text>
<ellipse cx="284.50" cy="895.31" rx="10.5" ry="7.6" fill="#e20000"/>
<text class="sm" transform="translate(284.50,898.51) scale(1.3,1)" text-anchor="middle">–</text>
<ellipse cx="320.83" cy="895.31" rx="10.5" ry="7.6" fill="#e4e000"/>
<text class="sy" transform="translate(321.13,899.06) scale(1.3,1)" text-anchor="middle">?</text>
<ellipse cx="357.46" cy="895.31" rx="10.5" ry="7.6" fill="#e4e000"/>
<text class="sy" transform="translate(357.76,899.06) scale(1.3,1)" text-anchor="middle">?</text>
<ellipse cx="393.63" cy="895.31" rx="10.5" ry="7.6" fill="#00be00"/>
<text class="sy" transform="translate(393.83,899.11) scale(1.22,1.0)" text-anchor="middle">+</text>
<ellipse cx="429.79" cy="895.31" rx="10.5" ry="7.6" fill="#00be00"/>
<text class="sy" transform="translate(429.99,899.11) scale(1.22,1.0)" text-anchor="middle">+</text>
<ellipse cx="466.04" cy="895.31" rx="10.5" ry="7.6" fill="#e4e000"/>
<text class="sy" transform="translate(466.34,899.06) scale(1.3,1)" text-anchor="middle">?</text>
<text class="st" transform="translate(223.6,926.95) scale(1.25,1)" text-anchor="end">Richardson et al 2012</text>
<ellipse cx="248.23" cy="922.35" rx="10.5" ry="7.6" fill="#e4e000"/>
<text class="sy" transform="translate(248.53,926.10) scale(1.3,1)" text-anchor="middle">?</text>
<ellipse cx="284.50" cy="922.35" rx="10.5" ry="7.6" fill="#e4e000"/>
<text class="sy" transform="translate(284.80,926.10) scale(1.3,1)" text-anchor="middle">?</text>
<ellipse cx="320.83" cy="922.35" rx="10.5" ry="7.6" fill="#00be00"/>
<text class="sy" transform="translate(321.03,926.15) scale(1.22,1.0)" text-anchor="middle">+</text>
<ellipse cx="357.46" cy="922.35" rx="10.5" ry="7.6" fill="#e4e000"/>
<text class="sy" transform="translate(357.76,926.10) scale(1.3,1)" text-anchor="middle">?</text>
<ellipse cx="393.63" cy="922.35" rx="10.5" ry="7.6" fill="#00be00"/>
<text class="sy" transform="translate(393.83,926.15) scale(1.22,1.0)" text-anchor="middle">+</text>
<ellipse cx="429.79" cy="922.35" rx="10.5" ry="7.6" fill="#00be00"/>
<text class="sy" transform="translate(429.99,926.15) scale(1.22,1.0)" text-anchor="middle">+</text>
<ellipse cx="466.04" cy="922.35" rx="10.5" ry="7.6" fill="#e4e000"/>
<text class="sy" transform="translate(466.34,926.10) scale(1.3,1)" text-anchor="middle">?</text>
<text class="st" transform="translate(223.6,953.99) scale(1.25,1)" text-anchor="end">Romano-Ely et al 2006a</text>
<ellipse cx="248.23" cy="949.39" rx="10.5" ry="7.6" fill="#e4e000"/>
<text class="sy" transform="translate(248.53,953.14) scale(1.3,1)" text-anchor="middle">?</text>
<ellipse cx="284.50" cy="949.39" rx="10.5" ry="7.6" fill="#00be00"/>
<text class="sy" transform="translate(284.70,953.19) scale(1.22,1.0)" text-anchor="middle">+</text>
<ellipse cx="320.83" cy="949.39" rx="10.5" ry="7.6" fill="#00be00"/>
<text class="sy" transform="translate(321.03,953.19) scale(1.22,1.0)" text-anchor="middle">+</text>
<ellipse cx="357.46" cy="949.39" rx="10.5" ry="7.6" fill="#e4e000"/>
<text class="sy" transform="translate(357.76,953.14) scale(1.3,1)" text-anchor="middle">?</text>
<ellipse cx="393.63" cy="949.39" rx="10.5" ry="7.6" fill="#00be00"/>
<text class="sy" transform="translate(393.83,953.19) scale(1.22,1.0)" text-anchor="middle">+</text>
<ellipse cx="429.79" cy="949.39" rx="10.5" ry="7.6" fill="#00be00"/>
<text class="sy" transform="translate(429.99,953.19) scale(1.22,1.0)" text-anchor="middle">+</text>
<ellipse cx="466.04" cy="949.39" rx="10.5" ry="7.6" fill="#e4e000"/>
<text class="sy" transform="translate(466.34,953.14) scale(1.3,1)" text-anchor="middle">?</text>
<text class="st" transform="translate(223.6,981.03) scale(1.25,1)" text-anchor="end">Romano-Ely et al 2006b</text>
<ellipse cx="248.23" cy="976.43" rx="10.5" ry="7.6" fill="#e4e000"/>
<text class="sy" transform="translate(248.53,980.18) scale(1.3,1)" text-anchor="middle">?</text>
<ellipse cx="284.50" cy="976.43" rx="10.5" ry="7.6" fill="#00be00"/>
<text class="sy" transform="translate(284.70,980.23) scale(1.22,1.0)" text-anchor="middle">+</text>
<ellipse cx="320.83" cy="976.43" rx="10.5" ry="7.6" fill="#00be00"/>
<text class="sy" transform="translate(321.03,980.23) scale(1.22,1.0)" text-anchor="middle">+</text>
<ellipse cx="357.46" cy="976.43" rx="10.5" ry="7.6" fill="#e4e000"/>
<text class="sy" transform="translate(357.76,980.18) scale(1.3,1)" text-anchor="middle">?</text>
<ellipse cx="393.63" cy="976.43" rx="10.5" ry="7.6" fill="#00be00"/>
<text class="sy" transform="translate(393.83,980.23) scale(1.22,1.0)" text-anchor="middle">+</text>
<ellipse cx="429.79" cy="976.43" rx="10.5" ry="7.6" fill="#00be00"/>
<text class="sy" transform="translate(429.99,980.23) scale(1.22,1.0)" text-anchor="middle">+</text>
<ellipse cx="466.04" cy="976.43" rx="10.5" ry="7.6" fill="#e4e000"/>
<text class="sy" transform="translate(466.34,980.18) scale(1.3,1)" text-anchor="middle">?</text>
<text class="st" transform="translate(223.6,1008.07) scale(1.25,1)" text-anchor="end">Rustad et al 2016</text>
<ellipse cx="248.23" cy="1003.47" rx="10.5" ry="7.6" fill="#e4e000"/>
<text class="sy" transform="translate(248.53,1007.22) scale(1.3,1)" text-anchor="middle">?</text>
<ellipse cx="284.50" cy="1003.47" rx="10.5" ry="7.6" fill="#00be00"/>
<text class="sy" transform="translate(284.70,1007.27) scale(1.22,1.0)" text-anchor="middle">+</text>
<ellipse cx="320.83" cy="1003.47" rx="10.5" ry="7.6" fill="#00be00"/>
<text class="sy" transform="translate(321.03,1007.27) scale(1.22,1.0)" text-anchor="middle">+</text>
<ellipse cx="357.46" cy="1003.47" rx="10.5" ry="7.6" fill="#e4e000"/>
<text class="sy" transform="translate(357.76,1007.22) scale(1.3,1)" text-anchor="middle">?</text>
<ellipse cx="393.63" cy="1003.47" rx="10.5" ry="7.6" fill="#00be00"/>
<text class="sy" transform="translate(393.83,1007.27) scale(1.22,1.0)" text-anchor="middle">+</text>
<ellipse cx="429.79" cy="1003.47" rx="10.5" ry="7.6" fill="#00be00"/>
<text class="sy" transform="translate(429.99,1007.27) scale(1.22,1.0)" text-anchor="middle">+</text>
<ellipse cx="466.04" cy="1003.47" rx="10.5" ry="7.6" fill="#00be00"/>
<text class="sy" transform="translate(466.24,1007.27) scale(1.22,1.0)" text-anchor="middle">+</text>
<text class="st" transform="translate(223.6,1035.11) scale(1.25,1)" text-anchor="end">Saunders et al 2004a</text>
<ellipse cx="248.23" cy="1030.51" rx="10.5" ry="7.6" fill="#e4e000"/>
<text class="sy" transform="translate(248.53,1034.26) scale(1.3,1)" text-anchor="middle">?</text>
<ellipse cx="284.50" cy="1030.51" rx="10.5" ry="7.6" fill="#00be00"/>
<text class="sy" transform="translate(284.70,1034.31) scale(1.22,1.0)" text-anchor="middle">+</text>
<ellipse cx="320.83" cy="1030.51" rx="10.5" ry="7.6" fill="#00be00"/>
<text class="sy" transform="translate(321.03,1034.31) scale(1.22,1.0)" text-anchor="middle">+</text>
<ellipse cx="357.46" cy="1030.51" rx="10.5" ry="7.6" fill="#e4e000"/>
<text class="sy" transform="translate(357.76,1034.26) scale(1.3,1)" text-anchor="middle">?</text>
<ellipse cx="393.63" cy="1030.51" rx="10.5" ry="7.6" fill="#00be00"/>
<text class="sy" transform="translate(393.83,1034.31) scale(1.22,1.0)" text-anchor="middle">+</text>
<ellipse cx="429.79" cy="1030.51" rx="10.5" ry="7.6" fill="#00be00"/>
<text class="sy" transform="translate(429.99,1034.31) scale(1.22,1.0)" text-anchor="middle">+</text>
<ellipse cx="466.04" cy="1030.51" rx="10.5" ry="7.6" fill="#e4e000"/>
<text class="sy" transform="translate(466.34,1034.26) scale(1.3,1)" text-anchor="middle">?</text>
<text class="st" transform="translate(223.6,1062.15) scale(1.25,1)" text-anchor="end">Saunders et al 2004b</text>
<ellipse cx="248.23" cy="1057.55" rx="10.5" ry="7.6" fill="#e4e000"/>
<text class="sy" transform="translate(248.53,1061.30) scale(1.3,1)" text-anchor="middle">?</text>
<ellipse cx="284.50" cy="1057.55" rx="10.5" ry="7.6" fill="#00be00"/>
<text class="sy" transform="translate(284.70,1061.35) scale(1.22,1.0)" text-anchor="middle">+</text>
<ellipse cx="320.83" cy="1057.55" rx="10.5" ry="7.6" fill="#00be00"/>
<text class="sy" transform="translate(321.03,1061.35) scale(1.22,1.0)" text-anchor="middle">+</text>
<ellipse cx="357.46" cy="1057.55" rx="10.5" ry="7.6" fill="#e4e000"/>
<text class="sy" transform="translate(357.76,1061.30) scale(1.3,1)" text-anchor="middle">?</text>
<ellipse cx="393.63" cy="1057.55" rx="10.5" ry="7.6" fill="#00be00"/>
<text class="sy" transform="translate(393.83,1061.35) scale(1.22,1.0)" text-anchor="middle">+</text>
<ellipse cx="429.79" cy="1057.55" rx="10.5" ry="7.6" fill="#00be00"/>
<text class="sy" transform="translate(429.99,1061.35) scale(1.22,1.0)" text-anchor="middle">+</text>
<ellipse cx="466.04" cy="1057.55" rx="10.5" ry="7.6" fill="#e4e000"/>
<text class="sy" transform="translate(466.34,1061.30) scale(1.3,1)" text-anchor="middle">?</text>
<text class="st" transform="translate(223.6,1089.19) scale(1.25,1)" text-anchor="end">Saunders et al 2007</text>
<ellipse cx="248.23" cy="1084.59" rx="10.5" ry="7.6" fill="#e4e000"/>
<text class="sy" transform="translate(248.53,1088.34) scale(1.3,1)" text-anchor="middle">?</text>
<ellipse cx="284.50" cy="1084.59" rx="10.5" ry="7.6" fill="#00be00"/>
<text class="sy" transform="translate(284.70,1088.39) scale(1.22,1.0)" text-anchor="middle">+</text>
<ellipse cx="320.83" cy="1084.59" rx="10.5" ry="7.6" fill="#00be00"/>
<text class="sy" transform="translate(321.03,1088.39) scale(1.22,1.0)" text-anchor="middle">+</text>
<ellipse cx="357.46" cy="1084.59" rx="10.5" ry="7.6" fill="#e4e000"/>
<text class="sy" transform="translate(357.76,1088.34) scale(1.3,1)" text-anchor="middle">?</text>
<ellipse cx="393.63" cy="1084.59" rx="10.5" ry="7.6" fill="#00be00"/>
<text class="sy" transform="translate(393.83,1088.39) scale(1.22,1.0)" text-anchor="middle">+</text>
<ellipse cx="429.79" cy="1084.59" rx="10.5" ry="7.6" fill="#00be00"/>
<text class="sy" transform="translate(429.99,1088.39) scale(1.22,1.0)" text-anchor="middle">+</text>
<ellipse cx="466.04" cy="1084.59" rx="10.5" ry="7.6" fill="#e4e000"/>
<text class="sy" transform="translate(466.34,1088.34) scale(1.3,1)" text-anchor="middle">?</text>
<text class="st" transform="translate(223.6,1116.23) scale(1.25,1)" text-anchor="end">Saunders et al 2009</text>
<ellipse cx="248.23" cy="1111.63" rx="10.5" ry="7.6" fill="#e4e000"/>
<text class="sy" transform="translate(248.53,1115.38) scale(1.3,1)" text-anchor="middle">?</text>
<ellipse cx="284.50" cy="1111.63" rx="10.5" ry="7.6" fill="#e4e000"/>
<text class="sy" transform="translate(284.80,1115.38) scale(1.3,1)" text-anchor="middle">?</text>
<ellipse cx="320.83" cy="1111.63" rx="10.5" ry="7.6" fill="#00be00"/>
<text class="sy" transform="translate(321.03,1115.43) scale(1.22,1.0)" text-anchor="middle">+</text>
<ellipse cx="357.46" cy="1111.63" rx="10.5" ry="7.6" fill="#e4e000"/>
<text class="sy" transform="translate(357.76,1115.38) scale(1.3,1)" text-anchor="middle">?</text>
<ellipse cx="393.63" cy="1111.63" rx="10.5" ry="7.6" fill="#00be00"/>
<text class="sy" transform="translate(393.83,1115.43) scale(1.22,1.0)" text-anchor="middle">+</text>
<ellipse cx="429.79" cy="1111.63" rx="10.5" ry="7.6" fill="#00be00"/>
<text class="sy" transform="translate(429.99,1115.43) scale(1.22,1.0)" text-anchor="middle">+</text>
<ellipse cx="466.04" cy="1111.63" rx="10.5" ry="7.6" fill="#e20000"/>
<text class="sm" transform="translate(466.04,1114.83) scale(1.3,1)" text-anchor="middle">–</text>
<text class="st" transform="translate(223.6,1143.27) scale(1.25,1)" text-anchor="end">Saunders et al 2018</text>
<ellipse cx="248.23" cy="1138.67" rx="10.5" ry="7.6" fill="#00be00"/>
<text class="sy" transform="translate(248.43,1142.47) scale(1.22,1.0)" text-anchor="middle">+</text>
<ellipse cx="284.50" cy="1138.67" rx="10.5" ry="7.6" fill="#e4e000"/>
<text class="sy" transform="translate(284.80,1142.42) scale(1.3,1)" text-anchor="middle">?</text>
<ellipse cx="320.83" cy="1138.67" rx="10.5" ry="7.6" fill="#00be00"/>
<text class="sy" transform="translate(321.03,1142.47) scale(1.22,1.0)" text-anchor="middle">+</text>
<ellipse cx="357.46" cy="1138.67" rx="10.5" ry="7.6" fill="#e4e000"/>
<text class="sy" transform="translate(357.76,1142.42) scale(1.3,1)" text-anchor="middle">?</text>
<ellipse cx="393.63" cy="1138.67" rx="10.5" ry="7.6" fill="#00be00"/>
<text class="sy" transform="translate(393.83,1142.47) scale(1.22,1.0)" text-anchor="middle">+</text>
<ellipse cx="429.79" cy="1138.67" rx="10.5" ry="7.6" fill="#00be00"/>
<text class="sy" transform="translate(429.99,1142.47) scale(1.22,1.0)" text-anchor="middle">+</text>
<ellipse cx="466.04" cy="1138.67" rx="10.5" ry="7.6" fill="#e4e000"/>
<text class="sy" transform="translate(466.34,1142.42) scale(1.3,1)" text-anchor="middle">?</text>
<text class="st" transform="translate(223.6,1170.31) scale(1.25,1)" text-anchor="end">Sollie et al 2018</text>
<ellipse cx="248.23" cy="1165.71" rx="10.5" ry="7.6" fill="#e4e000"/>
<text class="sy" transform="translate(248.53,1169.46) scale(1.3,1)" text-anchor="middle">?</text>
<ellipse cx="284.50" cy="1165.71" rx="10.5" ry="7.6" fill="#e4e000"/>
<text class="sy" transform="translate(284.80,1169.46) scale(1.3,1)" text-anchor="middle">?</text>
<ellipse cx="320.83" cy="1165.71" rx="10.5" ry="7.6" fill="#00be00"/>
<text class="sy" transform="translate(321.03,1169.51) scale(1.22,1.0)" text-anchor="middle">+</text>
<ellipse cx="357.46" cy="1165.71" rx="10.5" ry="7.6" fill="#e4e000"/>
<text class="sy" transform="translate(357.76,1169.46) scale(1.3,1)" text-anchor="middle">?</text>
<ellipse cx="393.63" cy="1165.71" rx="10.5" ry="7.6" fill="#00be00"/>
<text class="sy" transform="translate(393.83,1169.51) scale(1.22,1.0)" text-anchor="middle">+</text>
<ellipse cx="429.79" cy="1165.71" rx="10.5" ry="7.6" fill="#00be00"/>
<text class="sy" transform="translate(429.99,1169.51) scale(1.22,1.0)" text-anchor="middle">+</text>
<ellipse cx="466.04" cy="1165.71" rx="10.5" ry="7.6" fill="#00be00"/>
<text class="sy" transform="translate(466.24,1169.51) scale(1.22,1.0)" text-anchor="middle">+</text>
<text class="st" transform="translate(223.6,1197.35) scale(1.25,1)" text-anchor="end">Thomas et al 2009a</text>
<ellipse cx="248.23" cy="1192.75" rx="10.5" ry="7.6" fill="#e4e000"/>
<text class="sy" transform="translate(248.53,1196.50) scale(1.3,1)" text-anchor="middle">?</text>
<ellipse cx="284.50" cy="1192.75" rx="10.5" ry="7.6" fill="#e4e000"/>
<text class="sy" transform="translate(284.80,1196.50) scale(1.3,1)" text-anchor="middle">?</text>
<ellipse cx="320.83" cy="1192.75" rx="10.5" ry="7.6" fill="#e20000"/>
<text class="sm" transform="translate(320.83,1195.95) scale(1.3,1)" text-anchor="middle">–</text>
<ellipse cx="357.46" cy="1192.75" rx="10.5" ry="7.6" fill="#e4e000"/>
<text class="sy" transform="translate(357.76,1196.50) scale(1.3,1)" text-anchor="middle">?</text>
<ellipse cx="393.63" cy="1192.75" rx="10.5" ry="7.6" fill="#00be00"/>
<text class="sy" transform="translate(393.83,1196.55) scale(1.22,1.0)" text-anchor="middle">+</text>
<ellipse cx="429.79" cy="1192.75" rx="10.5" ry="7.6" fill="#00be00"/>
<text class="sy" transform="translate(429.99,1196.55) scale(1.22,1.0)" text-anchor="middle">+</text>
<ellipse cx="466.04" cy="1192.75" rx="10.5" ry="7.6" fill="#e4e000"/>
<text class="sy" transform="translate(466.34,1196.50) scale(1.3,1)" text-anchor="middle">?</text>
<text class="st" transform="translate(223.6,1224.39) scale(1.25,1)" text-anchor="end">Thomas et al 2009b</text>
<ellipse cx="248.23" cy="1219.79" rx="10.5" ry="7.6" fill="#e4e000"/>
<text class="sy" transform="translate(248.53,1223.54) scale(1.3,1)" text-anchor="middle">?</text>
<ellipse cx="284.50" cy="1219.79" rx="10.5" ry="7.6" fill="#e4e000"/>
<text class="sy" transform="translate(284.80,1223.54) scale(1.3,1)" text-anchor="middle">?</text>
<ellipse cx="320.83" cy="1219.79" rx="10.5" ry="7.6" fill="#e20000"/>
<text class="sm" transform="translate(320.83,1222.99) scale(1.3,1)" text-anchor="middle">–</text>
<ellipse cx="357.46" cy="1219.79" rx="10.5" ry="7.6" fill="#e4e000"/>
<text class="sy" transform="translate(357.76,1223.54) scale(1.3,1)" text-anchor="middle">?</text>
<ellipse cx="393.63" cy="1219.79" rx="10.5" ry="7.6" fill="#00be00"/>
<text class="sy" transform="translate(393.83,1223.59) scale(1.22,1.0)" text-anchor="middle">+</text>
<ellipse cx="429.79" cy="1219.79" rx="10.5" ry="7.6" fill="#00be00"/>
<text class="sy" transform="translate(429.99,1223.59) scale(1.22,1.0)" text-anchor="middle">+</text>
<ellipse cx="466.04" cy="1219.79" rx="10.5" ry="7.6" fill="#e4e000"/>
<text class="sy" transform="translate(466.34,1223.54) scale(1.3,1)" text-anchor="middle">?</text>
<text class="st" transform="translate(223.6,1251.43) scale(1.25,1)" text-anchor="end">Upshaw et al 2016a</text>
<ellipse cx="248.23" cy="1246.83" rx="10.5" ry="7.6" fill="#e4e000"/>
<text class="sy" transform="translate(248.53,1250.58) scale(1.3,1)" text-anchor="middle">?</text>
<ellipse cx="284.50" cy="1246.83" rx="10.5" ry="7.6" fill="#e4e000"/>
<text class="sy" transform="translate(284.80,1250.58) scale(1.3,1)" text-anchor="middle">?</text>
<ellipse cx="320.83" cy="1246.83" rx="10.5" ry="7.6" fill="#00be00"/>
<text class="sy" transform="translate(321.03,1250.63) scale(1.22,1.0)" text-anchor="middle">+</text>
<ellipse cx="357.46" cy="1246.83" rx="10.5" ry="7.6" fill="#e4e000"/>
<text class="sy" transform="translate(357.76,1250.58) scale(1.3,1)" text-anchor="middle">?</text>
<ellipse cx="393.63" cy="1246.83" rx="10.5" ry="7.6" fill="#00be00"/>
<text class="sy" transform="translate(393.83,1250.63) scale(1.22,1.0)" text-anchor="middle">+</text>
<ellipse cx="429.79" cy="1246.83" rx="10.5" ry="7.6" fill="#00be00"/>
<text class="sy" transform="translate(429.99,1250.63) scale(1.22,1.0)" text-anchor="middle">+</text>
<ellipse cx="466.04" cy="1246.83" rx="10.5" ry="7.6" fill="#00be00"/>
<text class="sy" transform="translate(466.24,1250.63) scale(1.22,1.0)" text-anchor="middle">+</text>
<text class="st" transform="translate(223.6,1278.47) scale(1.25,1)" text-anchor="end">Upshaw et al 2016b</text>
<ellipse cx="248.23" cy="1273.87" rx="10.5" ry="7.6" fill="#e4e000"/>
<text class="sy" transform="translate(248.53,1277.62) scale(1.3,1)" text-anchor="middle">?</text>
<ellipse cx="284.50" cy="1273.87" rx="10.5" ry="7.6" fill="#e4e000"/>
<text class="sy" transform="translate(284.80,1277.62) scale(1.3,1)" text-anchor="middle">?</text>
<ellipse cx="320.83" cy="1273.87" rx="10.5" ry="7.6" fill="#00be00"/>
<text class="sy" transform="translate(321.03,1277.67) scale(1.22,1.0)" text-anchor="middle">+</text>
<ellipse cx="357.46" cy="1273.87" rx="10.5" ry="7.6" fill="#e4e000"/>
<text class="sy" transform="translate(357.76,1277.62) scale(1.3,1)" text-anchor="middle">?</text>
<ellipse cx="393.63" cy="1273.87" rx="10.5" ry="7.6" fill="#00be00"/>
<text class="sy" transform="translate(393.83,1277.67) scale(1.22,1.0)" text-anchor="middle">+</text>
<ellipse cx="429.79" cy="1273.87" rx="10.5" ry="7.6" fill="#00be00"/>
<text class="sy" transform="translate(429.99,1277.67) scale(1.22,1.0)" text-anchor="middle">+</text>
<ellipse cx="466.04" cy="1273.87" rx="10.5" ry="7.6" fill="#00be00"/>
<text class="sy" transform="translate(466.24,1277.67) scale(1.22,1.0)" text-anchor="middle">+</text>
<text class="st" transform="translate(223.6,1305.51) scale(1.25,1)" text-anchor="end">Upshaw et al 2016c</text>
<ellipse cx="248.23" cy="1300.91" rx="10.5" ry="7.6" fill="#e4e000"/>
<text class="sy" transform="translate(248.53,1304.66) scale(1.3,1)" text-anchor="middle">?</text>
<ellipse cx="284.50" cy="1300.91" rx="10.5" ry="7.6" fill="#e4e000"/>
<text class="sy" transform="translate(284.80,1304.66) scale(1.3,1)" text-anchor="middle">?</text>
<ellipse cx="320.83" cy="1300.91" rx="10.5" ry="7.6" fill="#00be00"/>
<text class="sy" transform="translate(321.03,1304.71) scale(1.22,1.0)" text-anchor="middle">+</text>
<ellipse cx="357.46" cy="1300.91" rx="10.5" ry="7.6" fill="#e4e000"/>
<text class="sy" transform="translate(357.76,1304.66) scale(1.3,1)" text-anchor="middle">?</text>
<ellipse cx="393.63" cy="1300.91" rx="10.5" ry="7.6" fill="#00be00"/>
<text class="sy" transform="translate(393.83,1304.71) scale(1.22,1.0)" text-anchor="middle">+</text>
<ellipse cx="429.79" cy="1300.91" rx="10.5" ry="7.6" fill="#00be00"/>
<text class="sy" transform="translate(429.99,1304.71) scale(1.22,1.0)" text-anchor="middle">+</text>
<ellipse cx="466.04" cy="1300.91" rx="10.5" ry="7.6" fill="#00be00"/>
<text class="sy" transform="translate(466.24,1304.71) scale(1.22,1.0)" text-anchor="middle">+</text>
<text class="st" transform="translate(223.6,1332.55) scale(1.25,1)" text-anchor="end">Upshaw et al 2016d</text>
<ellipse cx="248.23" cy="1327.95" rx="10.5" ry="7.6" fill="#e4e000"/>
<text class="sy" transform="translate(248.53,1331.70) scale(1.3,1)" text-anchor="middle">?</text>
<ellipse cx="284.50" cy="1327.95" rx="10.5" ry="7.6" fill="#e4e000"/>
<text class="sy" transform="translate(284.80,1331.70) scale(1.3,1)" text-anchor="middle">?</text>
<ellipse cx="320.83" cy="1327.95" rx="10.5" ry="7.6" fill="#00be00"/>
<text class="sy" transform="translate(321.03,1331.75) scale(1.22,1.0)" text-anchor="middle">+</text>
<ellipse cx="357.46" cy="1327.95" rx="10.5" ry="7.6" fill="#e4e000"/>
<text class="sy" transform="translate(357.76,1331.70) scale(1.3,1)" text-anchor="middle">?</text>
<ellipse cx="393.63" cy="1327.95" rx="10.5" ry="7.6" fill="#00be00"/>
<text class="sy" transform="translate(393.83,1331.75) scale(1.22,1.0)" text-anchor="middle">+</text>
<ellipse cx="429.79" cy="1327.95" rx="10.5" ry="7.6" fill="#00be00"/>
<text class="sy" transform="translate(429.99,1331.75) scale(1.22,1.0)" text-anchor="middle">+</text>
<ellipse cx="466.04" cy="1327.95" rx="10.5" ry="7.6" fill="#00be00"/>
<text class="sy" transform="translate(466.24,1331.75) scale(1.22,1.0)" text-anchor="middle">+</text>
<text class="st" transform="translate(223.6,1359.59) scale(1.25,1)" text-anchor="end">Valentine et al 2008a</text>
<ellipse cx="248.23" cy="1354.99" rx="10.5" ry="7.6" fill="#e4e000"/>
<text class="sy" transform="translate(248.53,1358.74) scale(1.3,1)" text-anchor="middle">?</text>
<ellipse cx="284.50" cy="1354.99" rx="10.5" ry="7.6" fill="#00be00"/>
<text class="sy" transform="translate(284.70,1358.79) scale(1.22,1.0)" text-anchor="middle">+</text>
<ellipse cx="320.83" cy="1354.99" rx="10.5" ry="7.6" fill="#00be00"/>
<text class="sy" transform="translate(321.03,1358.79) scale(1.22,1.0)" text-anchor="middle">+</text>
<ellipse cx="357.46" cy="1354.99" rx="10.5" ry="7.6" fill="#e4e000"/>
<text class="sy" transform="translate(357.76,1358.74) scale(1.3,1)" text-anchor="middle">?</text>
<ellipse cx="393.63" cy="1354.99" rx="10.5" ry="7.6" fill="#00be00"/>
<text class="sy" transform="translate(393.83,1358.79) scale(1.22,1.0)" text-anchor="middle">+</text>
<ellipse cx="429.79" cy="1354.99" rx="10.5" ry="7.6" fill="#00be00"/>
<text class="sy" transform="translate(429.99,1358.79) scale(1.22,1.0)" text-anchor="middle">+</text>
<ellipse cx="466.04" cy="1354.99" rx="10.5" ry="7.6" fill="#e4e000"/>
<text class="sy" transform="translate(466.34,1358.74) scale(1.3,1)" text-anchor="middle">?</text>
<text class="st" transform="translate(223.6,1386.63) scale(1.25,1)" text-anchor="end">Valentine et al 2008b</text>
<ellipse cx="248.23" cy="1382.03" rx="10.5" ry="7.6" fill="#e4e000"/>
<text class="sy" transform="translate(248.53,1385.78) scale(1.3,1)" text-anchor="middle">?</text>
<ellipse cx="284.50" cy="1382.03" rx="10.5" ry="7.6" fill="#00be00"/>
<text class="sy" transform="translate(284.70,1385.83) scale(1.22,1.0)" text-anchor="middle">+</text>
<ellipse cx="320.83" cy="1382.03" rx="10.5" ry="7.6" fill="#00be00"/>
<text class="sy" transform="translate(321.03,1385.83) scale(1.22,1.0)" text-anchor="middle">+</text>
<ellipse cx="357.46" cy="1382.03" rx="10.5" ry="7.6" fill="#e4e000"/>
<text class="sy" transform="translate(357.76,1385.78) scale(1.3,1)" text-anchor="middle">?</text>
<ellipse cx="393.63" cy="1382.03" rx="10.5" ry="7.6" fill="#00be00"/>
<text class="sy" transform="translate(393.83,1385.83) scale(1.22,1.0)" text-anchor="middle">+</text>
<ellipse cx="429.79" cy="1382.03" rx="10.5" ry="7.6" fill="#00be00"/>
<text class="sy" transform="translate(429.99,1385.83) scale(1.22,1.0)" text-anchor="middle">+</text>
<ellipse cx="466.04" cy="1382.03" rx="10.5" ry="7.6" fill="#e4e000"/>
<text class="sy" transform="translate(466.34,1385.78) scale(1.3,1)" text-anchor="middle">?</text>
<text class="st" transform="translate(223.6,1413.67) scale(1.25,1)" text-anchor="end">van Essen et al 2006</text>
<ellipse cx="248.23" cy="1409.07" rx="10.5" ry="7.6" fill="#e4e000"/>
<text class="sy" transform="translate(248.53,1412.82) scale(1.3,1)" text-anchor="middle">?</text>
<ellipse cx="284.50" cy="1409.07" rx="10.5" ry="7.6" fill="#00be00"/>
<text class="sy" transform="translate(284.70,1412.87) scale(1.22,1.0)" text-anchor="middle">+</text>
<ellipse cx="320.83" cy="1409.07" rx="10.5" ry="7.6" fill="#00be00"/>
<text class="sy" transform="translate(321.03,1412.87) scale(1.22,1.0)" text-anchor="middle">+</text>
<ellipse cx="357.46" cy="1409.07" rx="10.5" ry="7.6" fill="#e4e000"/>
<text class="sy" transform="translate(357.76,1412.82) scale(1.3,1)" text-anchor="middle">?</text>
<ellipse cx="393.63" cy="1409.07" rx="10.5" ry="7.6" fill="#00be00"/>
<text class="sy" transform="translate(393.83,1412.87) scale(1.22,1.0)" text-anchor="middle">+</text>
<ellipse cx="429.79" cy="1409.07" rx="10.5" ry="7.6" fill="#00be00"/>
<text class="sy" transform="translate(429.99,1412.87) scale(1.22,1.0)" text-anchor="middle">+</text>
<ellipse cx="466.04" cy="1409.07" rx="10.5" ry="7.6" fill="#00be00"/>
<text class="sy" transform="translate(466.24,1412.87) scale(1.22,1.0)" text-anchor="middle">+</text>
<text class="st" transform="translate(223.6,1440.71) scale(1.25,1)" text-anchor="end">Williams et al 2003</text>
<ellipse cx="248.23" cy="1436.11" rx="10.5" ry="7.6" fill="#e4e000"/>
<text class="sy" transform="translate(248.53,1439.86) scale(1.3,1)" text-anchor="middle">?</text>
<ellipse cx="284.50" cy="1436.11" rx="10.5" ry="7.6" fill="#e4e000"/>
<text class="sy" transform="translate(284.80,1439.86) scale(1.3,1)" text-anchor="middle">?</text>
<ellipse cx="320.83" cy="1436.11" rx="10.5" ry="7.6" fill="#e20000"/>
<text class="sm" transform="translate(320.83,1439.31) scale(1.3,1)" text-anchor="middle">–</text>
<ellipse cx="357.46" cy="1436.11" rx="10.5" ry="7.6" fill="#e4e000"/>
<text class="sy" transform="translate(357.76,1439.86) scale(1.3,1)" text-anchor="middle">?</text>
<ellipse cx="393.63" cy="1436.11" rx="10.5" ry="7.6" fill="#00be00"/>
<text class="sy" transform="translate(393.83,1439.91) scale(1.22,1.0)" text-anchor="middle">+</text>
<ellipse cx="429.79" cy="1436.11" rx="10.5" ry="7.6" fill="#00be00"/>
<text class="sy" transform="translate(429.99,1439.91) scale(1.22,1.0)" text-anchor="middle">+</text>
<ellipse cx="466.04" cy="1436.11" rx="10.5" ry="7.6" fill="#e4e000"/>
<text class="sy" transform="translate(466.34,1439.86) scale(1.3,1)" text-anchor="middle">?</text>
<text class="st" transform="translate(223.6,1467.75) scale(1.25,1)" text-anchor="end">Wolfe et al 2016</text>
<ellipse cx="248.23" cy="1463.15" rx="10.5" ry="7.6" fill="#e4e000"/>
<text class="sy" transform="translate(248.53,1466.90) scale(1.3,1)" text-anchor="middle">?</text>
<ellipse cx="284.50" cy="1463.15" rx="10.5" ry="7.6" fill="#00be00"/>
<text class="sy" transform="translate(284.70,1466.95) scale(1.22,1.0)" text-anchor="middle">+</text>
<ellipse cx="320.83" cy="1463.15" rx="10.5" ry="7.6" fill="#00be00"/>
<text class="sy" transform="translate(321.03,1466.95) scale(1.22,1.0)" text-anchor="middle">+</text>
<ellipse cx="357.46" cy="1463.15" rx="10.5" ry="7.6" fill="#e4e000"/>
<text class="sy" transform="translate(357.76,1466.90) scale(1.3,1)" text-anchor="middle">?</text>
<ellipse cx="393.63" cy="1463.15" rx="10.5" ry="7.6" fill="#00be00"/>
<text class="sy" transform="translate(393.83,1466.95) scale(1.22,1.0)" text-anchor="middle">+</text>
<ellipse cx="429.79" cy="1463.15" rx="10.5" ry="7.6" fill="#00be00"/>
<text class="sy" transform="translate(429.99,1466.95) scale(1.22,1.0)" text-anchor="middle">+</text>
<ellipse cx="466.04" cy="1463.15" rx="10.5" ry="7.6" fill="#00be00"/>
<text class="sy" transform="translate(466.24,1466.95) scale(1.22,1.0)" text-anchor="middle">+</text>
<text class="cap" transform="translate(228.7,1571.9) scale(0.927,1)" text-anchor="middle">(<tspan font-weight="bold">a</tspan>)</text>
<rect x="529.4" y="269.9" width="393.1" height="964.0" fill="none" stroke="#000" stroke-width="1.8"/>
<rect x="544.40" y="679.10" width="29.9" height="18.90" fill="#00be00"/>
<rect x="544.40" y="285.20" width="29.9" height="393.90" fill="#e4e000"/>
<rect x="544.40" y="285.20" width="29.9" height="412.80" fill="none" stroke="#000" stroke-width="1.45"/>
<text class="bl" transform="translate(570.70,732.9) scale(1.02,1) rotate(-90)" text-anchor="end">Random sequence generation (selection bias)</text>
<rect x="582.95" y="506.60" width="29.9" height="191.40" fill="#00be00"/>
<rect x="582.95" y="305.90" width="29.9" height="200.70" fill="#e4e000"/>
<rect x="582.95" y="285.20" width="29.9" height="20.70" fill="#e20000"/>
<rect x="582.95" y="285.20" width="29.9" height="412.80" fill="none" stroke="#000" stroke-width="1.45"/>
<text class="bl" transform="translate(609.20,727.2) scale(1.02,1) rotate(-90)" text-anchor="end">Allocation concealment (selection bias)</text>
<rect x="621.50" y="372.10" width="29.9" height="325.90" fill="#00be00"/>
<rect x="621.50" y="315.60" width="29.9" height="56.50" fill="#e4e000"/>
<rect x="621.50" y="285.20" width="29.9" height="30.40" fill="#e20000"/>
<rect x="621.50" y="285.20" width="29.9" height="412.80" fill="none" stroke="#000" stroke-width="1.45"/>
<text class="bl" transform="translate(647.70,734.5) scale(1.02,1) rotate(-90)" text-anchor="end">Blinding of participants and personnel (performance bias)</text>
<rect x="660.05" y="285.20" width="29.9" height="412.80" fill="#e4e000"/>
<rect x="660.05" y="285.20" width="29.9" height="412.80" fill="none" stroke="#000" stroke-width="1.45"/>
<text class="bl" transform="translate(686.20,734.5) scale(1.02,1) rotate(-90)" text-anchor="end">Blinding of outcome assessment (detection bias)</text>
<rect x="698.60" y="296.40" width="29.9" height="401.60" fill="#00be00"/>
<rect x="698.60" y="285.20" width="29.9" height="11.20" fill="#e4e000"/>
<rect x="698.60" y="285.20" width="29.9" height="412.80" fill="none" stroke="#000" stroke-width="1.45"/>
<text class="bl" transform="translate(724.70,725.2) scale(1.02,1) rotate(-90)" text-anchor="end">Incomplete outcome data (attrition bias)</text>
<rect x="737.15" y="296.40" width="29.9" height="401.60" fill="#00be00"/>
<rect x="737.15" y="285.20" width="29.9" height="11.20" fill="#e4e000"/>
<rect x="737.15" y="285.20" width="29.9" height="412.80" fill="none" stroke="#000" stroke-width="1.45"/>
<text class="bl" transform="translate(763.20,723.0) scale(1.02,1) rotate(-90)" text-anchor="end">Selective reporting (reporting bias)</text>
<rect x="775.70" y="458.20" width="29.9" height="239.80" fill="#00be00"/>
<rect x="775.70" y="296.40" width="29.9" height="161.80" fill="#e4e000"/>
<rect x="775.70" y="285.20" width="29.9" height="11.20" fill="#e20000"/>
<rect x="775.70" y="285.20" width="29.9" height="412.80" fill="none" stroke="#000" stroke-width="1.45"/>
<text class="bl" transform="translate(801.70,718.0) scale(1.02,1) rotate(-90)" text-anchor="end">Other bias</text>
<line x1="826.35" y1="285.50" x2="826.35" y2="699.70" stroke="#000" stroke-width="2"/>
<line x1="819.8" y1="698.70" x2="832.9" y2="698.70" stroke="#000" stroke-width="2"/>
<text class="ax" transform="translate(849.3,699.10) rotate(-90)" text-anchor="start">0%</text>
<line x1="819.8" y1="596.30" x2="832.9" y2="596.30" stroke="#000" stroke-width="2"/>
<text class="ax" transform="translate(849.3,596.70) rotate(-90)" text-anchor="middle">25%</text>
<line x1="819.8" y1="492.80" x2="832.9" y2="492.80" stroke="#000" stroke-width="2"/>
<text class="ax" transform="translate(849.3,493.20) rotate(-90)" text-anchor="middle">50%</text>
<line x1="819.8" y1="389.55" x2="832.9" y2="389.55" stroke="#000" stroke-width="2"/>
<text class="ax" transform="translate(849.3,389.95) rotate(-90)" text-anchor="middle">75%</text>
<line x1="819.8" y1="286.50" x2="832.9" y2="286.50" stroke="#000" stroke-width="2"/>
<text class="ax" transform="translate(849.3,286.90) rotate(-90)" text-anchor="end">100%</text>
<rect x="860.7" y="284.4" width="47.6" height="933.9" fill="none" stroke="#000" stroke-width="1.9"/>
<rect x="870.9" y="1176.5" width="25.8" height="26.3" fill="#00be00" stroke="#000" stroke-width="1.4"/>
<text class="bl" transform="translate(891.3,1171.1) scale(0.98,0.995) rotate(-90)">Low risk of bias</text>
<rect x="870.9" y="877.0" width="25.8" height="26.3" fill="#e4e000" stroke="#000" stroke-width="1.4"/>
<text class="bl" transform="translate(891.3,871.6) scale(0.98,0.995) rotate(-90)">Unclear risk of bias</text>
<rect x="870.9" y="577.1" width="25.8" height="26.3" fill="#e20000" stroke="#000" stroke-width="1.4"/>
<text class="bl" transform="translate(891.3,572.0) scale(0.98,0.995) rotate(-90)">High risk of bias</text>
<text class="cap" transform="translate(699.8,1571.9) scale(0.975,1)" text-anchor="middle">(<tspan font-weight="bold">b</tspan>)</text>
</svg>
</body></html>
